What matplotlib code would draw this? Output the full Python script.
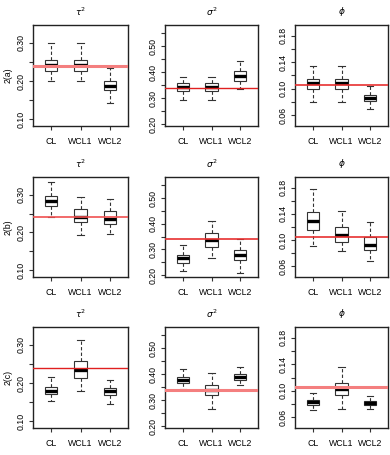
import numpy as np
import matplotlib
matplotlib.use("Agg")
import matplotlib.pyplot as plt

plt.rcParams['font.family'] = ['Liberation Sans', 'DejaVu Sans']

methods = ["CL", "WCL1", "WCL2"]
rows = ["2(a)", "2(b)", "2(c)"]
params = [r"$\tau^2$", r"$\sigma^2$", r"$\phi$"]
truth = [0.24, 0.34, 0.105]

# five-number summaries per method: [whisker low, q1, median, q3, whisker high]
a_tau2 = [[0.199, 0.225, 0.241, 0.254, 0.300],
          [0.199, 0.225, 0.241, 0.254, 0.300],
          [0.143, 0.176, 0.188, 0.201, 0.234]]
a_sigma2 = [[0.295, 0.329, 0.342, 0.358, 0.381],
            [0.295, 0.329, 0.342, 0.358, 0.381],
            [0.334, 0.368, 0.386, 0.403, 0.442]]
a_phi = [[0.080, 0.099, 0.108, 0.114, 0.135],
         [0.080, 0.099, 0.108, 0.114, 0.135],
         [0.070, 0.081, 0.086, 0.091, 0.104]]

b_tau2 = [[0.242, 0.270, 0.283, 0.297, 0.334],
          [0.194, 0.227, 0.240, 0.261, 0.294],
          [0.197, 0.222, 0.235, 0.257, 0.289]]
b_sigma2 = [[0.218, 0.248, 0.265, 0.278, 0.316],
            [0.267, 0.311, 0.337, 0.363, 0.411],
            [0.210, 0.261, 0.279, 0.297, 0.341]]
b_phi = [[0.091, 0.1155, 0.1285, 0.143, 0.1785],
         [0.083, 0.097, 0.107, 0.1195, 0.144],
         [0.0675, 0.085, 0.0925, 0.1045, 0.1275]]

c_tau2 = [[0.153, 0.171, 0.179, 0.190, 0.217],
          [0.179, 0.214, 0.234, 0.259, 0.313],
          [0.146, 0.168, 0.178, 0.188, 0.209]]
c_sigma2 = [[0.344, 0.365, 0.378, 0.391, 0.4215],
            [0.267, 0.321, 0.339, 0.357, 0.403],
            [0.357, 0.378, 0.388, 0.401, 0.428]]
c_phi = [[0.0711, 0.0787, 0.0828, 0.0863, 0.0965],
         [0.0727, 0.0939, 0.103, 0.1116, 0.136],
         [0.0727, 0.0777, 0.0813, 0.0838, 0.0914]]

data = [[a_tau2, a_sigma2, a_phi],
        [b_tau2, b_sigma2, b_phi],
        [c_tau2, c_sigma2, c_phi]]

ylims = [(0.082, 0.347), (0.193, 0.582), (0.0435, 0.1965)]
yticks = [np.arange(0.10, 0.301, 0.05), np.arange(0.20, 0.551, 0.05), np.arange(0.06, 0.181, 0.02)]
ylabels = [["0.10", "", "0.20", "", "0.30"],
           ["0.20", "", "0.30", "", "0.40", "", "0.50", ""],
           ["0.06", "", "0.10", "", "0.14", "", "0.18"]]

# thick pale vs thin red reference lines as rendered in the original
line_style = [[(2.2, "#f47f7f"), (1.0, "#e02020"), (1.2, "#e83030")],
              [(1.2, "#f05050"), (1.2, "#e83030"), (1.2, "#e83030")],
              [(1.0, "#e02020"), (2.2, "#f47f7f"), (2.2, "#f47f7f")]]

W, H = 390, 455
lefts = [33, 165, 295]
rights = [128, 258, 388]
tops = [25, 177, 327]
bottoms = [126, 277, 428]

fig = plt.figure(figsize=(W / 100, H / 100), dpi=100)

for i in range(3):
    for j in range(3):
        ax = fig.add_axes([lefts[j] / W, 1 - bottoms[i] / H,
                           (rights[j] - lefts[j]) / W, (bottoms[i] - tops[i]) / H])
        stats = []
        for k, s in enumerate(data[i][j]):
            stats.append(dict(whislo=s[0], q1=s[1], med=s[2], q3=s[3],
                              whishi=s[4], fliers=[], label=methods[k]))
        ax.bxp(stats, positions=[1, 2, 3], widths=0.42, showfliers=False,
               patch_artist=True,
               boxprops=dict(facecolor="white", edgecolor="#333333", linewidth=0.8),
               medianprops=dict(color="black", linewidth=2.4, solid_capstyle="butt"),
               whiskerprops=dict(color="#333333", linewidth=0.8, linestyle=(0, (3, 2))),
               capprops=dict(color="#333333", linewidth=0.8),
               capwidths=0.21)
        lw, col = line_style[i][j]
        ax.axhline(truth[j], color=col, linewidth=lw, zorder=5)
        ax.set_xlim(0.38, 3.62)
        ax.set_ylim(*ylims[j])
        ax.set_yticks(yticks[j])
        ax.set_yticklabels(ylabels[j], rotation=90, va="center", fontsize=6.3)
        ax.set_xticks([1, 2, 3])
        ax.set_xticklabels(methods, fontsize=6.3)
        ax.tick_params(axis="both", length=3, width=0.8, color="#333333", pad=2)
        ax.tick_params(axis="x", pad=5)
        for sp in ax.spines.values():
            sp.set_linewidth(1.0)
            sp.set_color("#222222")
        fig.text((lefts[j] + rights[j]) / 2 / W, 1 - (tops[i] - 13) / H, params[j],
                 ha="center", va="center", fontsize=6.5)
        if j == 0:
            fig.text(8 / W, 1 - (tops[i] + bottoms[i]) / 2 / H, rows[i],
                     rotation=90, ha="center", va="center", fontsize=6.3)

fig.savefig("out.png", dpi=100)
